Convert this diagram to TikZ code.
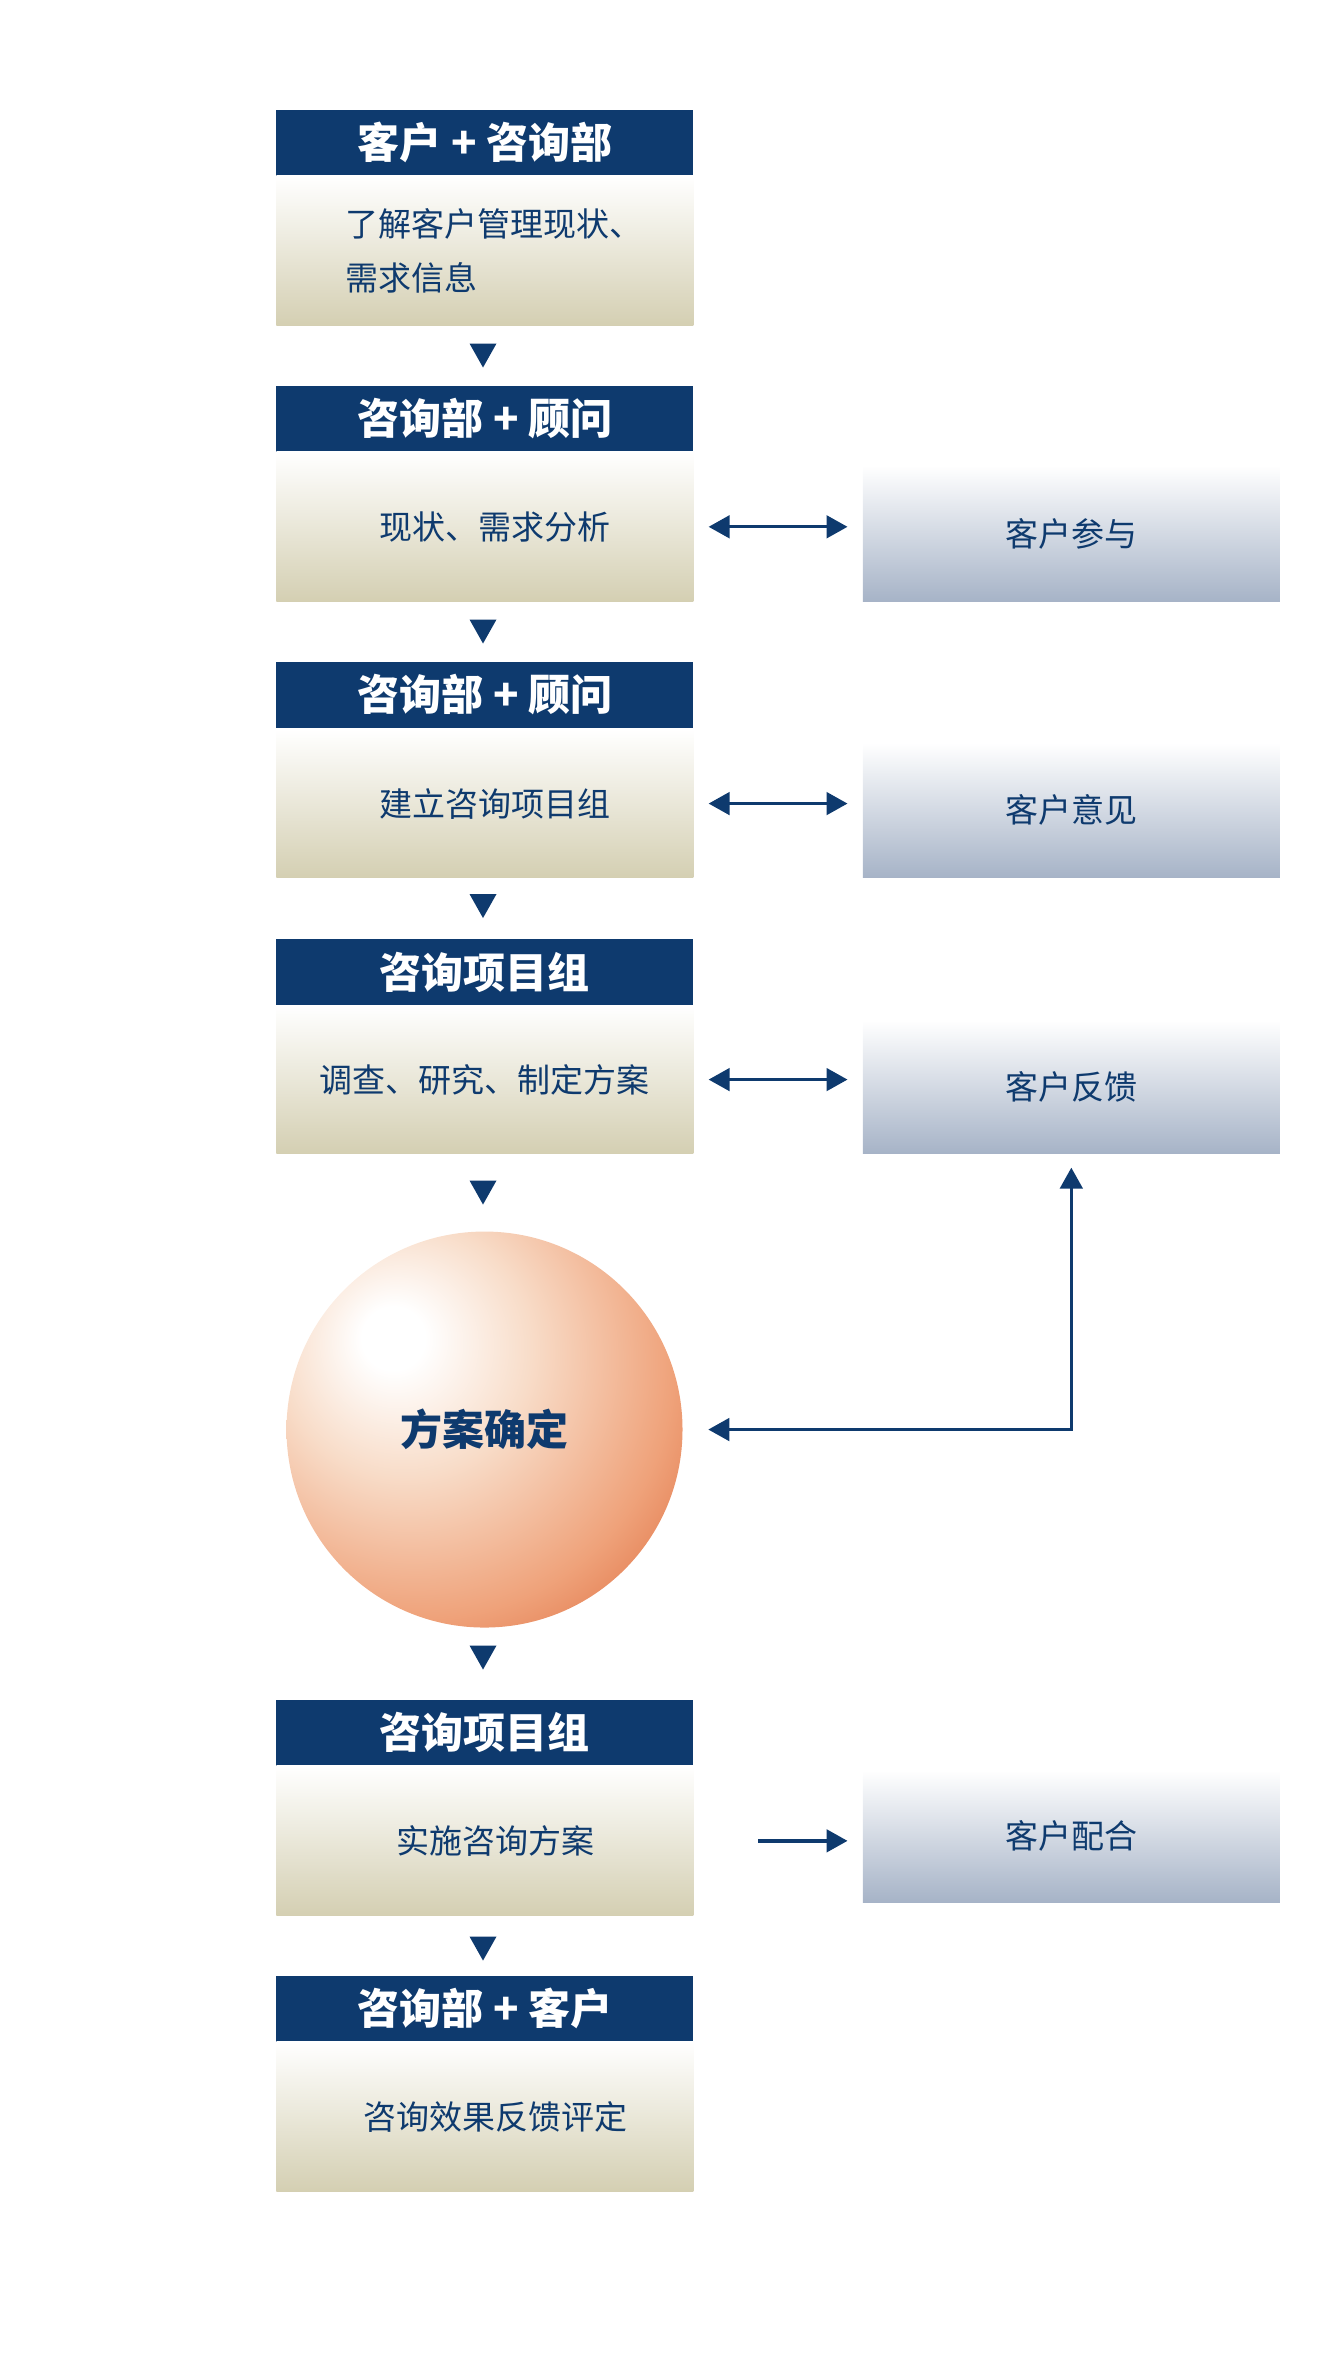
\documentclass[tikz,border=0pt]{standalone}
\usepackage{fontspec}
\setmainfont{Noto Sans CJK SC}
\usetikzlibrary{arrows.meta}
\definecolor{navy}{HTML}{0E3A6E}
\definecolor{beige}{HTML}{D4CFB2}
\definecolor{greyblue}{HTML}{A6B3C7}
\definecolor{orbP}{HTML}{F8DCC8}
\definecolor{orbA}{HTML}{EFA27A}
\definecolor{orbB}{HTML}{D44E1C}
\pgfdeclareradialshading{orb}{\pgfpoint{-12bp}{12bp}}{color(0bp)=(white);color(4bp)=(white);color(16bp)=(orbP);color(32bp)=(orbA);color(50bp)=(orbB);color(100bp)=(orbB)}
\begin{document}
\begin{tikzpicture}[x=1pt,y=-1pt,
  hdr/.style={fill=navy,text=white,font=\fontsize{28}{32}\selectfont\bfseries,minimum width=278,minimum height=44,anchor=north west,inner sep=0},
  body/.style={top color=white,bottom color=beige,text=navy,font=\fontsize{22}{36}\selectfont,minimum width=278,anchor=north west,inner sep=0},
  side/.style={top color=white,bottom color=greyblue,text=navy,font=\fontsize{22}{26}\selectfont,minimum width=278,anchor=north west,inner sep=0},
  conn/.style={navy,line width=2.2,-{Triangle[length=14,width=15]}},
  dconn/.style={navy,line width=2.2,{Triangle[length=14,width=15]}-{Triangle[length=14,width=15]}},
  tri/.style={fill=navy}]
\useasboundingbox (0,0) rectangle (886.7,1579.3);
\node[hdr] (h1) at (184,73) {客户 + 咨询部};
\node[body,minimum height=100,align=left,text width=238,inner xsep=0] (b1) at (184,117) {\hspace*{26pt}了解客户管理现状、\\\hspace*{26pt}需求信息};
\node[hdr] (h2) at (184,257) {咨询部 + 顾问};
\node[body,minimum height=100] (b2) at (184,301) {\hspace*{14pt}现状、需求分析};
\node[hdr] (h3) at (184,441) {咨询部 + 顾问};
\node[body,minimum height=99] (b3) at (184,486) {\hspace*{14pt}建立咨询项目组};
\node[hdr] (h4) at (184,626) {咨询项目组};
\node[body,minimum height=99] (b4) at (184,670) {调查、研究、制定方案};
\node[hdr] (h5) at (184,1133) {咨询项目组};
\node[body,minimum height=100] (b5) at (184,1177) {\hspace*{14pt}实施咨询方案};
\node[hdr] (h6) at (184,1317) {咨询部 + 客户};
\node[body,minimum height=100] (b6) at (184,1361) {\hspace*{14pt}咨询效果反馈评定};
\node[circle,minimum size=264,inner sep=0,shading=orb,text=navy,font=\fontsize{28}{32}\selectfont\bfseries] (c) at (323,953) {方案确定};
\node[side,minimum height=91] (r1) at (575,310) {客户参与};
\node[side,minimum height=90] (r2) at (575,495) {客户意见};
\node[side,minimum height=89] (r3) at (575,680) {客户反馈};
\node[side,minimum height=88] (r4) at (575,1180) {客户配合};
\foreach \y in {229,413,596,787,1097,1291}
  \fill[tri] (313,\y) -- (331,\y) -- (322,\y+16) -- cycle;
\draw[dconn,shorten <=10,shorten >=10] (b2.east) -- (b2.east -| r1.west);
\draw[dconn,shorten <=10,shorten >=10] (b3.east) -- (b3.east -| r2.west);
\draw[dconn,shorten <=10,shorten >=10] (b4.east) -- (b4.east -| r3.west);
\draw[conn,shorten <=43,shorten >=10] (b5.east) -- (b5.east -| r4.west);
\draw[dconn,shorten <=17,shorten >=9] (c.east) -| (r3.south);
\end{tikzpicture}
\end{document}
